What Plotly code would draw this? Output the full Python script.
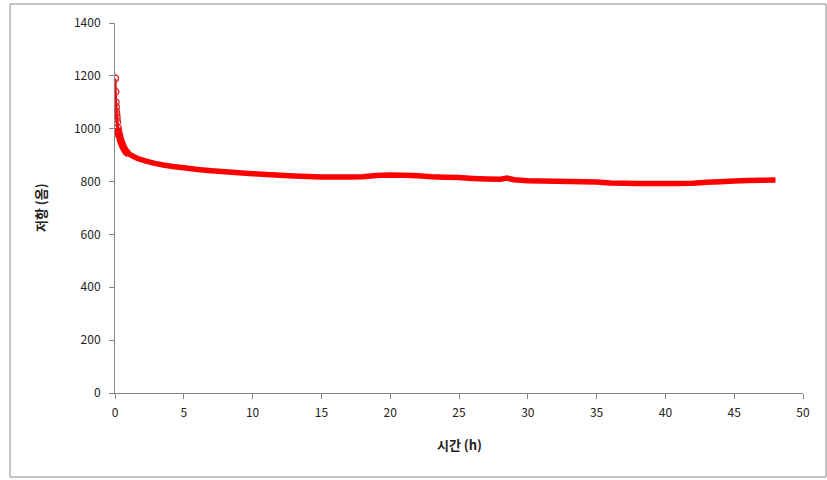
import plotly.graph_objects as go

time_h = [0, 0.02, 0.04, 0.06, 0.08, 0.1, 0.12, 0.15, 0.2, 0.3, 0.45, 0.6, 0.8, 1.0,
          1.3, 1.6, 2.2, 2.9, 3.5, 4.2, 5, 6, 7, 8, 9, 10, 11, 12, 13, 14, 15, 16,
          17, 18, 19, 20, 21, 22, 23, 24, 25, 26, 27, 28, 28.5, 29, 30, 31, 32, 33,
          34, 35, 36, 37, 38, 39, 40, 41, 42, 43, 44, 45, 46, 47, 48]
resistance = [1190, 1140, 1100, 1082, 1064, 1052, 1040, 1025, 1003, 976, 950, 930, 912, 905,
              896, 888, 878, 869, 863, 857, 852, 846, 841, 837, 833, 830, 827, 824, 821, 819, 817, 817,
              817, 818, 823, 825, 824, 822, 818, 816, 815, 812, 810, 809, 813, 807, 803, 802, 801, 800,
              799, 798, 795, 794, 793, 793, 793, 793, 794, 797, 799, 802, 804, 805, 806]

x_ticks = [0, 5, 10, 15, 20, 25, 30, 35, 40, 45, 50]
y_ticks = [0, 200, 400, 600, 800, 1000, 1200, 1400]

x_title = "시간 (h)"
y_title = "저항 (옴)"

n_early = 10  # number of initial readings drawn as separate circles

fig = go.Figure()
fig.add_trace(go.Scatter(
    x=time_h[n_early - 2:], y=resistance[n_early - 2:], mode="lines",
    line=dict(color="#ff0000", width=5.5, simplify=False),
    showlegend=False, hoverinfo="skip"))
fig.add_trace(go.Scatter(
    x=time_h[n_early - 2:n_early + 4], y=resistance[n_early - 2:n_early + 4], mode="lines",
    line=dict(color="#ff0000", width=7.5, simplify=False),
    showlegend=False, hoverinfo="skip"))
fig.add_trace(go.Scatter(
    x=time_h[:n_early], y=resistance[:n_early], mode="lines+markers",
    line=dict(color="#ff0000", width=3, simplify=False),
    marker=dict(symbol="circle-open", size=7, color="#e01c1c", line=dict(width=1.3)),
    showlegend=False, hoverinfo="skip"))

axis_common = dict(showgrid=False, zeroline=False, showline=True, linecolor="#868686",
                   linewidth=1, ticks="outside", ticklen=5, tickcolor="#868686",
                   tickfont=dict(family="Noto Sans CJK KR", size=12, color="#222222"))
fig.update_xaxes(range=[0, 50], tickvals=x_ticks, ticktext=[str(v) for v in x_ticks],
                 ticklabelstandoff=4, **axis_common)
fig.update_yaxes(range=[0, 1400], tickvals=y_ticks, ticktext=[str(v) for v in y_ticks],
                 ticklabelstandoff=6, **axis_common)

fig.update_layout(
    width=827, height=480,
    margin=dict(l=115, r=24, t=23, b=87),
    paper_bgcolor="white", plot_bgcolor="white",
    annotations=[
        dict(text="<b>" + x_title + "</b>", xref="paper", yref="paper", x=0.5, y=-0.1405,
             showarrow=False, xanchor="center", yanchor="middle",
             font=dict(family="Noto Sans CJK KR", size=13, color="#222222")),
        dict(text="<b>" + y_title + "</b>", xref="paper", yref="paper", x=-0.109, y=0.5,
             showarrow=False, xanchor="center", yanchor="middle", textangle=-90,
             font=dict(family="Noto Sans CJK KR", size=13, color="#222222")),
    ],
    shapes=[dict(type="rect", xref="paper", yref="paper",
                 x0=(10 - 115) / 688, x1=(826 - 115) / 688,
                 y0=(393 - 477) / 370, y1=(393 - 4) / 370,
                 line=dict(color="#8a8a8a", width=1), fillcolor="rgba(0,0,0,0)", layer="below")],
)

fig.write_html("out.html")
